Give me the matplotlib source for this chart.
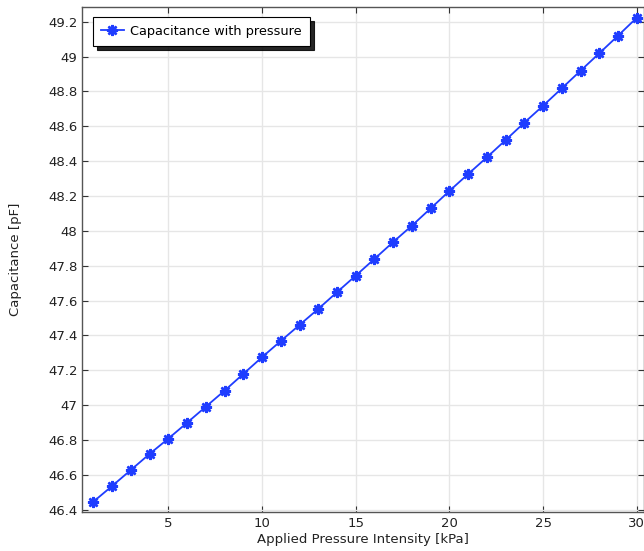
import matplotlib.pyplot as plt
from matplotlib.ticker import FuncFormatter

# pressure [kPa] and capacitance [pF]
pressure = list(range(1, 31))
capacitance = [46.446, 46.536, 46.628, 46.720, 46.808, 46.899, 46.991, 47.083,
               47.179, 47.275, 47.368, 47.460, 47.552, 47.648, 47.743, 47.839,
               47.936, 48.030, 48.129, 48.229, 48.326, 48.422, 48.521, 48.621,
               48.718, 48.818, 48.919, 49.019, 49.120, 49.223]

x_ticks = [5, 10, 15, 20, 25, 30]
y_ticks = [46.4 + 0.2 * i for i in range(15)]

fig = plt.figure(figsize=(6.44, 5.51), dpi=100)
ax = fig.add_axes([0.1278, 0.0708, 0.8722, 0.9165])

line_color = "#1f3dff"
ax.plot(pressure, capacitance, color=line_color, lw=1.3,
        marker=(8, 2, 0), ms=8, mew=1.8, mec=line_color,
        label="Capacitance with pressure")

ax.set_xlim(0.41, 30.38)
ax.set_ylim(46.387, 49.284)
ax.set_xticks(x_ticks)
ax.set_yticks(y_ticks)
ax.yaxis.set_major_formatter(FuncFormatter(lambda v, p: "%g" % round(v, 1)))

ax.grid(True, color="#e6e6e6", lw=1)
ax.set_axisbelow(True)
ax.tick_params(direction="in", top=True, right=True, labelsize=9.5,
               length=4, color="#333333", labelcolor="#222222")
for s in ax.spines.values():
    s.set_color("#555555")
    s.set_linewidth(1.0)

ax.set_xlabel("Applied Pressure Intensity [kPa]", fontsize=9.5, labelpad=2,
              color="#222222")
ax.set_ylabel("Capacitance [pF]", fontsize=9.5, labelpad=19, color="#222222")

leg = ax.legend(loc="upper left", bbox_to_anchor=(0.019, 0.980),
                borderaxespad=0, fontsize=9.3, fancybox=False,
                shadow={"color": "black", "alpha": 0.85, "ox": 3, "oy": -3},
                borderpad=0.6, handlelength=1.8, handletextpad=0.5,
                framealpha=1)
leg.get_frame().set_edgecolor("black")
leg.get_frame().set_linewidth(0.8)

fig.savefig("out.png", dpi=100)
